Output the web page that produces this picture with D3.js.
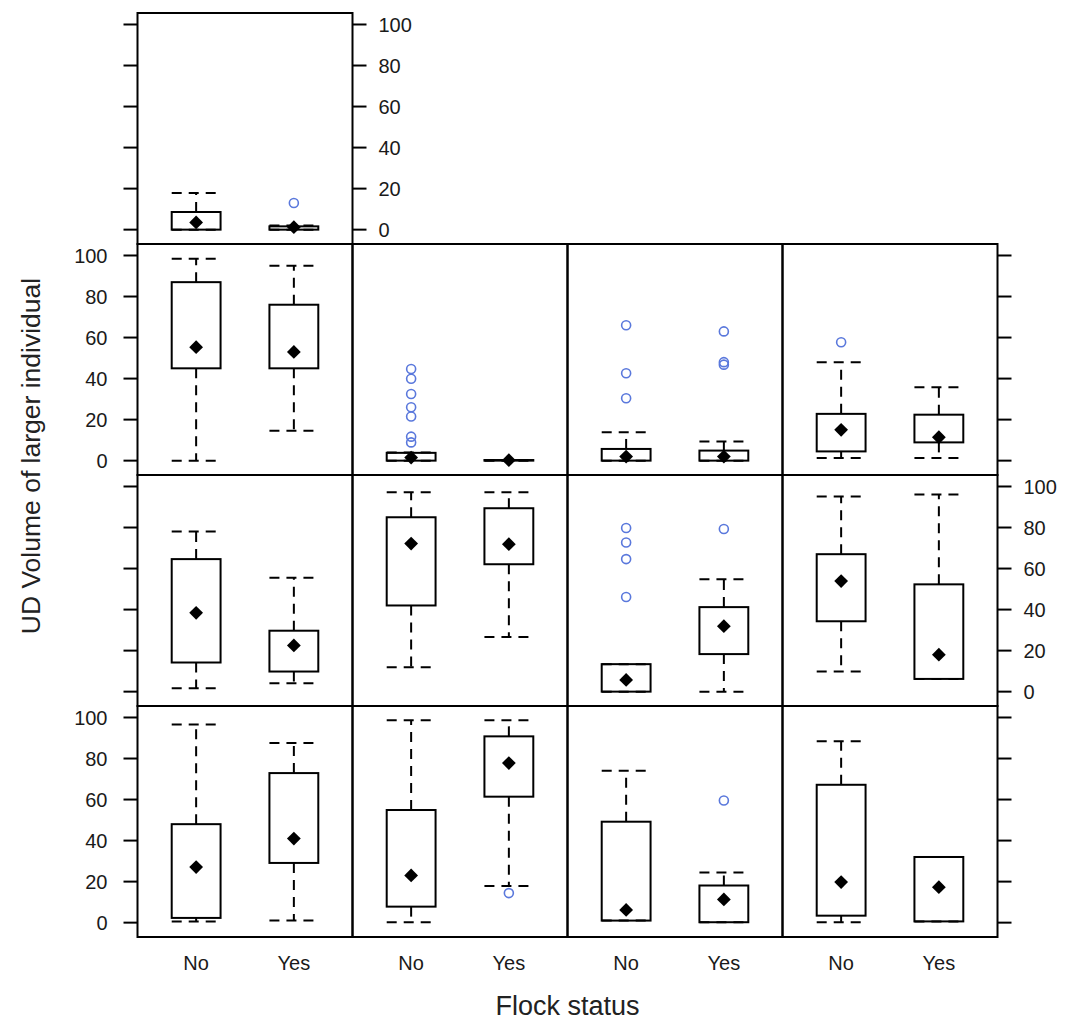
<!DOCTYPE html>
<html lang="en">
<head>
    <meta charset="UTF-8">
    <script src="https://d3js.org/d3.v7.min.js"></script>
    <title>UD volume by flock status</title>
    <style>
        html,
        body {
            margin: 0px;
            padding: 0px;
            background-color: #ffffff;
            font-family: "Liberation Sans", Arial, sans-serif;
        }
    </style>
</head>
<body>
    <div id="chart"></div>
    <script>

        // categories on the x axis of each panel
        const flockStatus = ['No', 'Yes'];
        const yTicks = [0, 20, 40, 60, 80, 100];

        // one entry per panel: top panel first, then rows left to right
        // each entry is [No, Yes]
        const whiskerLow = [
            [0, 0],
            [0, 14.6], [0, 0], [0, 0], [1.3, 1.3],
            [1.6, 4.1], [11.9, 26.6], [0, 0], [9.8, 6.2],
            [0.6, 1], [0.2, 17.8], [1, 0.2], [0.2, 0.6]
        ];
        const boxLow = [
            [0, 0],
            [45, 45], [0, 0], [0, 0], [4.5, 8.9],
            [14.2, 9.8], [42, 62.1], [0, 18.3], [34.3, 6.2],
            [2.3, 29.1], [7.8, 61.4], [1, 0.2], [3.4, 0.6]
        ];
        const medians = [
            [3.5, 1.2],
            [55.3, 53], [1.5, 0.2], [2, 2], [15, 11.4],
            [38.4, 22.5], [72.2, 71.9], [5.7, 31.9], [53.9, 18],
            [27.1, 41], [23, 77.8], [6.2, 11.3], [19.8, 17.3]
        ];
        const boxHigh = [
            [8.6, 1.6],
            [87, 76], [3.8, 0.3], [5.7, 4.9], [22.8, 22.4],
            [64.6, 29.7], [85, 89.4], [13.4, 41.2], [67, 52.3],
            [48, 72.9], [54.9, 90.8], [49.2, 18.1], [67.2, 32]
        ];
        const whiskerHigh = [
            [17.8, 2],
            [98.4, 95], [4, 0.3], [13.8, 9.3], [48, 35.8],
            [78, 55.5], [97.2, 97.2], [13.4, 54.8], [95.1, 96.1],
            [96.6, 87.6], [98.7, 98.7], [74, 24.4], [88.4, 32]
        ];
        const outliers = [
            [[], [13]],
            [[], []], [[44.7, 39.9, 32.5, 26, 21.5, 11.7, 8.9], []], [[66, 42.6, 30.4], [63, 48, 46.8]], [[57.7], []],
            [[], []], [[], []], [[79.8, 72.7, 64.6, 46.1], [79.3]], [[], []],
            [[], []], [[], [14.4]], [[], [59.5]], [[], []]
        ];

        const width = 1068;
        const height = 1024;

        const panelW = 215;
        const panelH = 231;
        const left0 = 137.5;
        const top0 = 13;

        const svg = d3.select('#chart').append('svg')
            .attr('width', width)
            .attr('height', height)
            .style('display', 'block');

        const x = d3.scalePoint().domain(flockStatus).range([0.6 / 2.2 * panelW, 1.6 / 2.2 * panelW]);
        const y = d3.scaleLinear().domain([-7, 105.6]).range([panelH, 0]);
        const boxW = panelW * 0.5 / 2.2;

        const textCol = '#1a1a1a';

        function panelPos(i) {
            if (i === 0) return {row: 0, col: 0};
            return {row: 1 + Math.floor((i - 1) / 4), col: (i - 1) % 4};
        }

        medians.forEach((m, i) => {
            const {row, col} = panelPos(i);
            const g = svg.append('g')
                .attr('transform', `translate(${left0 + col * panelW},${top0 + row * panelH})`);

            flockStatus.forEach((cat, j) => {
                const cx = x(cat);
                const lo = whiskerLow[i][j], q1 = boxLow[i][j], med = m[j],
                      q3 = boxHigh[i][j], hi = whiskerHigh[i][j];

                const dash = '10,7';
                // whiskers
                g.append('line')
                    .attr('x1', cx).attr('x2', cx)
                    .attr('y1', y(q3)).attr('y2', y(hi))
                    .attr('stroke', '#000').attr('stroke-width', 2)
                    .attr('stroke-dasharray', dash);
                g.append('line')
                    .attr('x1', cx).attr('x2', cx)
                    .attr('y1', y(q1)).attr('y2', y(lo))
                    .attr('stroke', '#000').attr('stroke-width', 2)
                    .attr('stroke-dasharray', dash);
                // caps
                [lo, hi].forEach(v => {
                    g.append('line')
                        .attr('x1', cx - boxW / 2).attr('x2', cx + boxW / 2)
                        .attr('y1', y(v)).attr('y2', y(v))
                        .attr('stroke', '#000').attr('stroke-width', 2)
                        .attr('stroke-dasharray', dash);
                });
                // box
                g.append('rect')
                    .attr('x', cx - boxW / 2)
                    .attr('y', y(q3))
                    .attr('width', boxW)
                    .attr('height', Math.max(y(q1) - y(q3), 0.5))
                    .attr('fill', 'none')
                    .attr('stroke', '#000').attr('stroke-width', 2);
                // median dot
                g.append('path')
                    .attr('d', d3.symbol().type(d3.symbolSquare).size(95)())
                    .attr('transform', `translate(${cx},${y(med)}) rotate(45)`)
                    .attr('fill', '#000');
                // outliers
                g.selectAll(null)
                    .data(outliers[i][j])
                    .join('circle')
                    .attr('cx', cx)
                    .attr('cy', d => y(d))
                    .attr('r', 4.5)
                    .attr('fill', 'none')
                    .attr('stroke', '#5a78dc')
                    .attr('stroke-width', 1.6);
            });

            // panel border
            g.append('rect')
                .attr('width', panelW).attr('height', panelH)
                .attr('fill', 'none')
                .attr('stroke', '#000').attr('stroke-width', 2);

            // y ticks: left side on col 0, right side on last panel in row
            const isLeft = col === 0;
            const isRight = (row === 0) || col === 3;
            const labelLeft = isLeft && (row === 1 || row === 3);
            const labelRight = isRight && (row === 0 || row === 2);

            if (isLeft) {
                g.selectAll(null).data(yTicks).join('line')
                    .attr('x1', 0).attr('x2', -14)
                    .attr('y1', d => y(d)).attr('y2', d => y(d))
                    .attr('stroke', '#000').attr('stroke-width', 2);
                if (labelLeft) {
                    g.selectAll(null).data(yTicks).join('text')
                        .attr('x', -30).attr('y', d => y(d))
                        .attr('dy', '0.36em')
                        .attr('text-anchor', 'end')
                        .attr('font-size', '20px')
                        .attr('fill', textCol)
                        .text(d => d);
                }
            }
            if (isRight) {
                g.selectAll(null).data(yTicks).join('line')
                    .attr('x1', panelW).attr('x2', panelW + 14)
                    .attr('y1', d => y(d)).attr('y2', d => y(d))
                    .attr('stroke', '#000').attr('stroke-width', 2);
                if (labelRight) {
                    g.selectAll(null).data(yTicks).join('text')
                        .attr('x', panelW + 26).attr('y', d => y(d))
                        .attr('dy', '0.36em')
                        .attr('text-anchor', 'start')
                        .attr('font-size', '20px')
                        .attr('fill', textCol)
                        .text(d => d);
                }
            }

            // category labels under the bottom row
            if (row === 3) {
                g.selectAll(null).data(flockStatus).join('text')
                    .attr('x', d => x(d))
                    .attr('y', panelH + 33)
                    .attr('text-anchor', 'middle')
                    .attr('font-size', '20px')
                    .attr('fill', textCol)
                    .text(d => d);
            }
        });

        // axis titles
        svg.append('text')
            .attr('x', left0 + 2 * panelW)
            .attr('y', 1015)
            .attr('text-anchor', 'middle')
            .attr('font-size', '27px')
            .attr('fill', '#222')
            .text('Flock status');

        svg.append('text')
            .attr('transform', 'translate(40,456) rotate(-90)')
            .attr('text-anchor', 'middle')
            .attr('font-size', '26.5px')
            .attr('fill', '#222')
            .text('UD Volume of larger individual');

    </script>
</body>
</html>
